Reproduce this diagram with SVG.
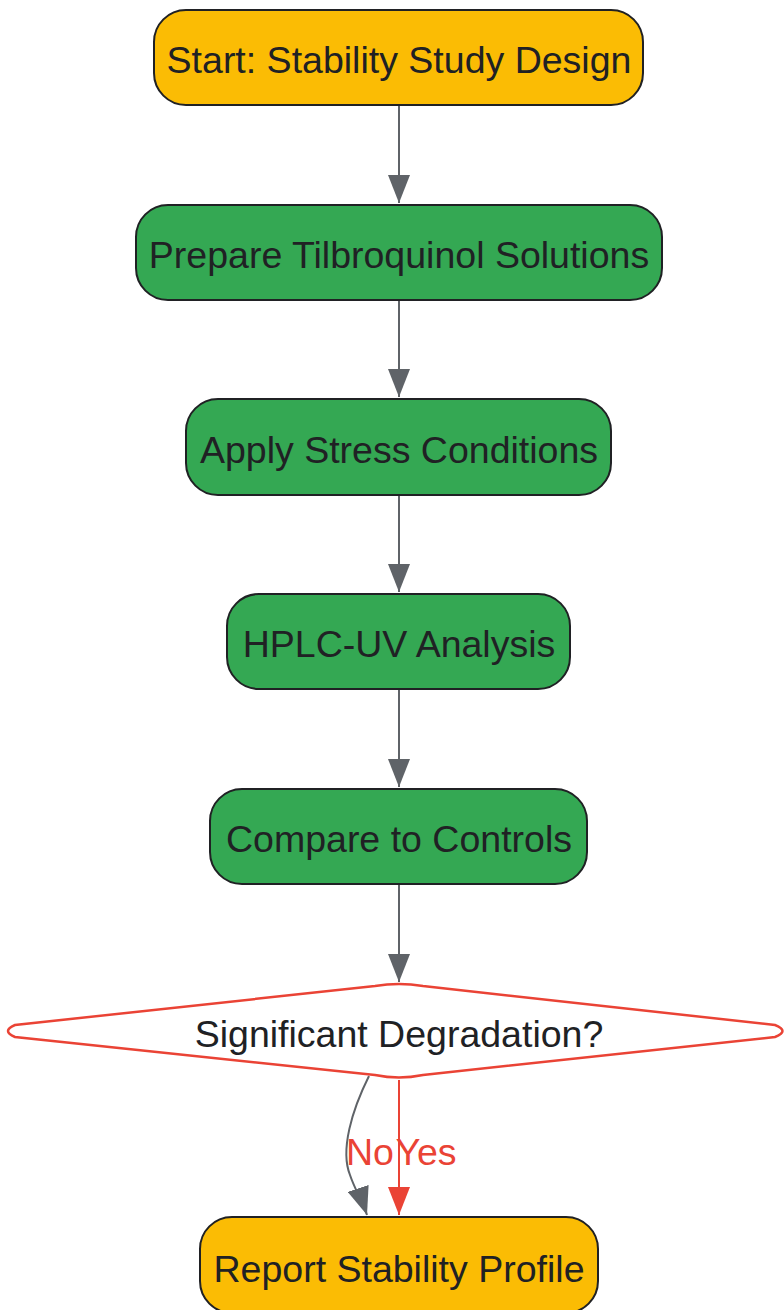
<svg xmlns="http://www.w3.org/2000/svg" width="784" height="1310" viewBox="0 0 784 1310">
<style>
.n rect{stroke:#202124;stroke-width:2}
.o{fill:#fbbc04}
.g{fill:#34a853}
text{font-family:"Liberation Sans",Arial,sans-serif;font-size:37.5px;fill:#202124;text-anchor:middle;dominant-baseline:central}
.e{fill:none;stroke-width:2}
</style>
<defs>
<marker id="ag" viewBox="0 0 28 22" refX="28" refY="11" markerWidth="28" markerHeight="22" markerUnits="userSpaceOnUse" orient="auto"><path d="M0,0L28,11L0,22Z" fill="#5f6368"/></marker>
<marker id="ar" viewBox="0 0 28 22" refX="28" refY="11" markerWidth="28" markerHeight="22" markerUnits="userSpaceOnUse" orient="auto"><path d="M0,0L28,11L0,22Z" fill="#ea4335"/></marker>
</defs>
<g id="connectors">
<path class="e" stroke="#5f6368" d="M399,105V203" marker-end="url(#ag)"/>
<path class="e" stroke="#5f6368" d="M399,300V397" marker-end="url(#ag)"/>
<path class="e" stroke="#5f6368" d="M399,495V592" marker-end="url(#ag)"/>
<path class="e" stroke="#5f6368" d="M399,689V787" marker-end="url(#ag)"/>
<path class="e" stroke="#5f6368" d="M399,884V982" marker-end="url(#ag)"/>
<path class="e" stroke="#5f6368" d="M369,1076C352,1110 340,1150 350,1175C355,1190 362,1200 367,1215" marker-end="url(#ag)"/>
<path class="e" stroke="#ea4335" d="M399,1080V1215" marker-end="url(#ar)"/>
<text x="370" y="1152" style="fill:#ea4335">No</text>
<text x="426" y="1152" style="fill:#ea4335">Yes</text>
</g>
<g id="start" class="n"><rect class="o" x="154" y="10" width="489" height="95" rx="32"/><text x="399" y="60">Start: Stability Study Design</text></g>
<g id="prepare" class="n"><rect class="g" x="136" y="205" width="526" height="95" rx="32"/><text x="399" y="255">Prepare Tilbroquinol Solutions</text></g>
<g id="stress" class="n"><rect class="g" x="186" y="399" width="425" height="96" rx="32"/><text x="399" y="450">Apply Stress Conditions</text></g>
<g id="hplc" class="n"><rect class="g" x="227" y="594" width="343" height="95" rx="32"/><text x="399" y="644">HPLC-UV Analysis</text></g>
<g id="compare" class="n"><rect class="g" x="210" y="789" width="377" height="95" rx="32"/><text x="399" y="839">Compare to Controls</text></g>
<g id="decision"><path d="M375,986Q399,982 423,986L775,1025Q790,1031 775,1037L423,1075Q399,1080 375,1075L15,1037Q1,1031 15,1025Z" fill="#fff" stroke="#ea4335" stroke-width="2.5"/><text x="399" y="1034">Significant Degradation?</text></g>
<g id="report" class="n"><rect class="o" x="200" y="1217" width="398" height="96" rx="32"/><text x="399" y="1269">Report Stability Profile</text></g>
</svg>
